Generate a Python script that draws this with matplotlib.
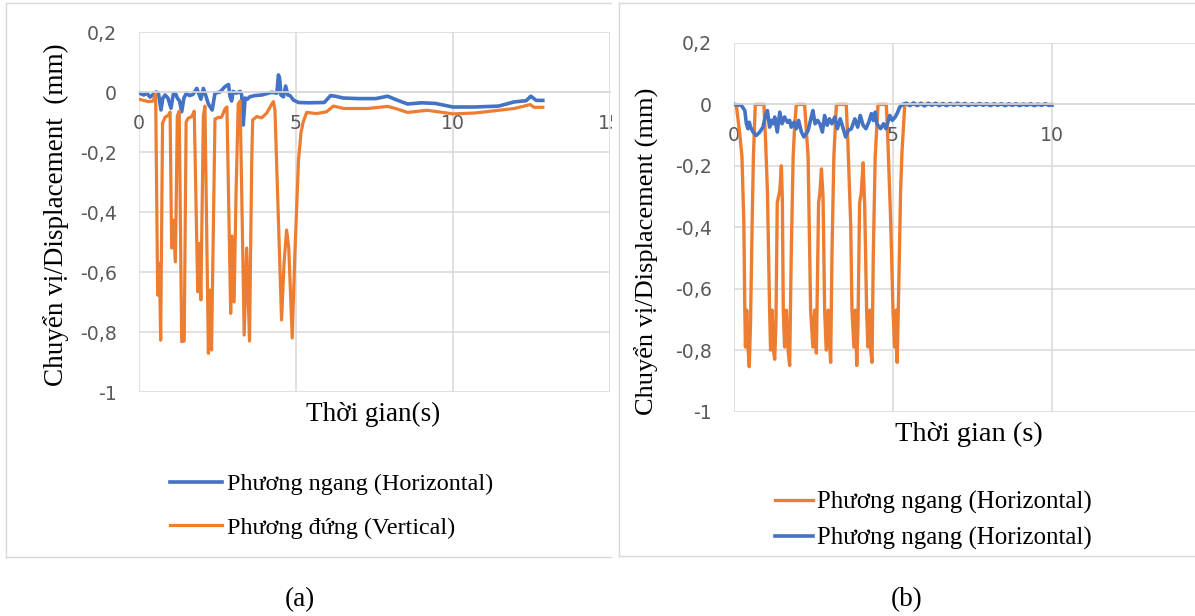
import matplotlib
matplotlib.use('Agg')
import matplotlib.pyplot as plt
from matplotlib.patches import Rectangle
from matplotlib.lines import Line2D

# ---------------- data ----------------
# Panel (a) - horizontal (blue)
ta_h = [0, 0.15, 0.25, 0.35, 0.45, 0.55, 0.62, 0.70, 0.76, 0.83,
        0.92, 1.02, 1.09, 1.16, 1.22, 1.29, 1.36, 1.43, 1.51, 1.61,
        1.72, 1.84, 1.90, 1.97, 2.05, 2.12, 2.21, 2.33, 2.42, 2.58,
        2.74, 2.85, 2.90, 2.95, 3.00, 3.10, 3.22, 3.27, 3.32, 3.38,
        3.45, 3.53, 3.69, 3.91, 4.23, 4.39, 4.44, 4.48, 4.52, 4.60,
        4.67, 4.74, 4.81, 4.92, 5.08, 5.40, 5.90, 6.10, 6.25, 6.50,
        7.00, 7.54, 7.92, 8.17, 8.55, 9.00, 9.43, 10.0, 10.7, 11.45,
        11.95, 12.33, 12.48, 12.65, 12.86]
va_h = [-0.003, -0.01, -0.004, -0.017, -0.008, 0.0, -0.004, -0.06, -0.02, -0.01,
        -0.02, -0.054, -0.008, -0.004, -0.02, -0.03, -0.066, -0.02, -0.004, -0.012,
        -0.008, 0.012, -0.004, -0.024, 0.012, -0.01, -0.04, -0.06, -0.004, 0.0,
        0.018, 0.025, -0.016, -0.03, 0.002, -0.004, 0.002, -0.01, -0.11, -0.02,
        -0.024, -0.016, -0.012, -0.01, -0.001, -0.004, 0.057, 0.045, -0.01, -0.016,
        0.02, -0.01, -0.012, -0.027, -0.035, -0.036, -0.035, -0.012, -0.014, -0.02,
        -0.022, -0.022, -0.014, -0.025, -0.04, -0.036, -0.038, -0.05, -0.05, -0.047,
        -0.033, -0.029, -0.014, -0.028, -0.028]

# Panel (a) - vertical (orange)
ta_v = [0.00, 0.30, 0.45, 0.53, 0.595, 0.65, 0.69, 0.75, 0.83, 0.93,
        0.99, 1.04, 1.09, 1.16, 1.22, 1.28, 1.36, 1.44, 1.50, 1.57,
        1.68, 1.76, 1.87, 1.92, 1.97, 2.05, 2.10, 2.21, 2.26, 2.31,
        2.42, 2.53, 2.63, 2.74, 2.80, 2.92, 2.96, 3.03, 3.09, 3.16,
        3.22, 3.35, 3.43, 3.52, 3.59, 3.62, 3.75, 3.91, 4.07, 4.23,
        4.28, 4.33, 4.54, 4.62, 4.70, 4.77, 4.88, 4.96, 5.08, 5.16,
        5.23, 5.34, 5.65, 5.97, 6.19, 6.53, 7.29, 7.92, 8.17, 8.55,
        9.18, 10.0, 10.7, 11.45, 11.95, 12.46, 12.58, 12.86]
va_v = [-0.024, -0.032, -0.03, -0.004, -0.677, -0.571, -0.827, -0.104, -0.084, -0.078,
        -0.067, -0.52, -0.427, -0.566, -0.08, -0.064, -0.832, -0.83, -0.10, -0.087,
        -0.082, -0.064, -0.666, -0.505, -0.693, -0.08, -0.047, -0.871, -0.66, -0.86,
        -0.09, -0.085, -0.084, -0.056, -0.05, -0.738, -0.48, -0.70, -0.34, -0.04,
        -0.03, -0.81, -0.52, -0.83, -0.23, -0.093, -0.082, -0.086, -0.07, -0.04,
        -0.032, -0.06, -0.76, -0.57, -0.46, -0.52, -0.82, -0.55, -0.227, -0.135,
        -0.10, -0.068, -0.072, -0.066, -0.047, -0.055, -0.055, -0.048, -0.055, -0.068,
        -0.061, -0.073, -0.07, -0.061, -0.055, -0.042, -0.051, -0.051]

# Panel (b) - orange
tb_o = [0, 0.07, 0.18, 0.25, 0.31, 0.34, 0.36, 0.40, 0.44, 0.48,
        0.52, 0.57, 0.61, 0.67, 0.94, 0.99, 1.05, 1.12, 1.15, 1.20,
        1.24, 1.28, 1.32, 1.36, 1.40, 1.44, 1.49, 1.52, 1.55, 1.59,
        1.65, 1.70, 1.75, 1.80, 1.86, 1.91, 1.96, 2.22, 2.33, 2.41,
        2.48, 2.54, 2.59, 2.62, 2.66, 2.70, 2.75, 2.80, 2.85, 2.90,
        2.96, 3.01, 3.04, 3.08, 3.14, 3.22, 3.53, 3.58, 3.67, 3.71,
        3.77, 3.82, 3.86, 3.90, 3.95, 4.00, 4.06, 4.11, 4.17, 4.21,
        4.27, 4.30, 4.34, 4.38, 4.44, 4.53, 4.79, 4.84, 4.93, 5.00,
        5.05, 5.10, 5.13, 5.18, 5.24, 5.28, 5.37, 10.0]
vb_o = [0, 0, -0.095, -0.17, -0.39, -0.67, -0.79, -0.67, -0.79, -0.854,
        -0.71, -0.39, -0.17, 0, 0, -0.11, -0.28, -0.67, -0.80, -0.67,
        -0.80, -0.83, -0.71, -0.32, -0.30, -0.28, -0.20, -0.31, -0.67, -0.79,
        -0.67, -0.80, -0.85, -0.49, -0.17, -0.065, 0, 0, -0.17, -0.67,
        -0.79, -0.67, -0.81, -0.60, -0.32, -0.29, -0.21, -0.30, -0.67, -0.80,
        -0.67, -0.79, -0.84, -0.49, -0.17, 0, 0, -0.12, -0.39, -0.67,
        -0.79, -0.67, -0.85, -0.71, -0.32, -0.29, -0.19, -0.33, -0.67, -0.79,
        -0.67, -0.80, -0.84, -0.49, -0.17, 0, 0, -0.12, -0.39, -0.67,
        -0.79, -0.67, -0.84, -0.60, -0.28, -0.16, 0, 0]

# Panel (b) - blue
tb_b = [0, 0.23, 0.34, 0.39, 0.44, 0.48, 0.52, 0.60, 0.70, 0.81,
        0.91, 0.99, 1.05, 1.12, 1.17, 1.23, 1.28, 1.36, 1.44, 1.51,
        1.59, 1.68, 1.75, 1.80, 1.89, 1.96, 2.03, 2.12, 2.20, 2.33,
        2.43, 2.48, 2.55, 2.63, 2.70, 2.78, 2.85, 2.93, 3.00, 3.08,
        3.17, 3.25, 3.34, 3.42, 3.51, 3.59, 3.69, 3.80, 3.89, 3.97,
        4.06, 4.15, 4.24, 4.32, 4.38, 4.44, 4.49, 4.61, 4.70, 4.78,
        4.90, 4.98, 5.07, 5.15, 5.21, 5.30,
        5.42, 5.53, 5.65, 5.76, 5.88, 5.99, 6.11, 6.22, 6.34, 6.45,
        6.57, 6.68, 6.80, 6.91, 7.03, 7.14, 7.26, 7.37, 7.49, 7.60,
        7.72, 7.83, 7.95, 8.06, 8.18, 8.29, 8.41, 8.52, 8.64, 8.75,
        8.87, 8.98, 9.10, 9.21, 9.33, 9.44, 9.56, 9.67, 9.79, 9.90, 10.0]
vb_b = [0, -0.003, -0.02, -0.063, -0.079, -0.058, -0.074, -0.09, -0.101, -0.09,
        -0.074, -0.036, -0.02, -0.074, -0.052, -0.063, -0.041, -0.09, -0.025, -0.063,
        -0.041, -0.058, -0.052, -0.074, -0.058, -0.079, -0.052, -0.09, -0.106, -0.085,
        -0.041, -0.02, -0.063, -0.052, -0.063, -0.09, -0.036, -0.068, -0.047, -0.063,
        -0.041, -0.079, -0.047, -0.074, -0.106, -0.085, -0.079, -0.047, -0.074, -0.036,
        -0.068, -0.079, -0.057, -0.03, -0.052, -0.025, -0.063, -0.079, -0.063, -0.079,
        -0.036, -0.052, -0.041, -0.025, -0.009, 0.0,
        0.004, -0.004, 0.005, -0.004, 0.004, -0.005, 0.004, -0.003, 0.004, -0.004,
        0.003, -0.004, 0.003, -0.003, 0.004, -0.003, 0.003, -0.004, 0.002, -0.003,
        0.003, -0.003, 0.002, -0.004, 0.002, -0.003, 0.002, -0.004, 0.002, -0.003,
        0.002, -0.004, 0.001, -0.003, 0.002, -0.004, 0.001, -0.003, 0.002, -0.003, -0.002]

yticks = [0.2, 0, -0.2, -0.4, -0.6, -0.8, -1]
ytick_labels = ['0,2', '0', '-0,2', '-0,4', '-0,6', '-0,8', '-1']
xticks = [0, 5, 10, 15]
xtick_labels_a = ['0', '5', '10', '15']
xtick_labels_b = ['0', '5', '10', '']   # "15" lies beyond the cropped edge

label_a_h = 'Phương ngang (Horizontal)'
label_a_v = 'Phương đứng (Vertical)'
label_b_o = 'Phương ngang (Horizontal)'
label_b_b = 'Phương ngang (Horizontal)'

# ---------------- style ----------------
W, H = 1195, 616
BLUE = '#4472C4'
ORANGE = '#ED7D31'
GRID = '#D9D9D9'
TICK = '#595959'
BORDER = '#D9D9D9'
SERIF = ['Liberation Serif', 'DejaVu Serif']
SANS = ['DejaVu Sans']

fig = plt.figure(figsize=(W / 100, H / 100), dpi=100)


def box(l, t, r, b):
    return [l / W, 1 - b / H, (r - l) / W, (b - t) / H]


def style(ax, xlabels):
    ax.set_xlim(0, 15)
    ax.set_ylim(-1, 0.2)
    ax.set_xticks(xticks)
    ax.set_xticklabels(xlabels)
    ax.set_yticks(yticks)
    ax.set_yticklabels(ytick_labels)
    for s in ['top', 'right', 'left']:
        ax.spines[s].set_visible(False)
    ax.spines['bottom'].set_position(('data', 0))
    ax.spines['bottom'].set_color(GRID)
    ax.spines['bottom'].set_linewidth(1.2)
    ax.grid(True, color=GRID, linewidth=1.1)
    ax.set_axisbelow(True)
    ax.tick_params(length=0, labelsize=13.6, labelcolor=TICK)
    ax.tick_params(axis='x', pad=15.5)
    ax.tick_params(axis='y', pad=16)
    for lbl in ax.get_xticklabels() + ax.get_yticklabels():
        lbl.set_fontfamily(SANS)
    ax.patch.set_alpha(0)


# Panel (a)
axa = fig.add_axes(box(139, 32, 610, 392))
style(axa, xtick_labels_a)
la_h, = axa.plot(ta_h, va_h, color=BLUE, lw=2.6, solid_joinstyle='round', label=label_a_h)
la_v, = axa.plot(ta_v, va_v, color=ORANGE, lw=2.3, solid_joinstyle='round', label=label_a_v)

# Panel (b)
axb = fig.add_axes(box(734, 43, 1211, 411.5))
style(axb, xtick_labels_b)
lb_o, = axb.plot(tb_o, vb_o, color=ORANGE, lw=2.4, solid_joinstyle='round', label=label_b_o)
lb_b, = axb.plot(tb_b, vb_b, color=BLUE, lw=2.6, solid_joinstyle='round', label=label_b_b)

# axis titles
fig.text(56 / W, 1 - 215 / H, 'Chuyển vị/Displacement  (mm)', rotation=90,
         ha='center', va='center', fontsize=19.5, family=SERIF)
fig.text(373 / W, 1 - 421 / H, 'Thời gian(s)', ha='center', va='baseline',
         fontsize=19.5, family=SERIF)
fig.text(647 / W, 1 - 251 / H, 'Chuyển vị/Displacement (mm)', rotation=90,
         ha='center', va='center', fontsize=19, family=SERIF)
fig.text(969 / W, 1 - 441 / H, 'Thời gian (s)', ha='center', va='baseline',
         fontsize=20.5, family=SERIF)

# legends
fig.legend(handles=[la_h, la_v], loc='center left',
           bbox_to_anchor=(170 / W, 1 - 506 / H), frameon=False,
           borderpad=0, borderaxespad=0, handlelength=2.15, handletextpad=0.2,
           labelspacing=0.9, prop={'family': SERIF, 'size': 17.4})
fig.legend(handles=[lb_o, lb_b], loc='center left',
           bbox_to_anchor=(775 / W, 1 - 520.5 / H), frameon=False,
           borderpad=0, borderaxespad=0, handlelength=1.53, handletextpad=0.16,
           labelspacing=0.52, prop={'family': SERIF, 'size': 17.9})

# captions
fig.text(299.5 / W, 1 - 600 / H, '(a)', ha='center', va='center', fontsize=19.5, family=SERIF)
fig.text(906.5 / W, 1 - 600 / H, '(b)', ha='center', va='center', fontsize=19.5, family=SERIF)

# white gap between panels (clips the "15" label of panel a)
fig.patches.append(Rectangle((612 / W, 0), 7 / W, 1, transform=fig.transFigure,
                             facecolor='white', edgecolor='none', zorder=5))


def fline(x0, y0, x1, y1):
    fig.lines.append(Line2D([x0 / W, x1 / W], [1 - y0 / H, 1 - y1 / H],
                            transform=fig.transFigure, color=BORDER, lw=1.0, zorder=6))


# panel (a) frame
fline(6, 3, 611, 3)
fline(6, 3, 6, 557)
fline(6, 557, 611, 557)
# panel (b) frame
fline(619, 3, 1195, 3)
fline(619, 3, 619, 556)
fline(619, 556, 1195, 556)

fig.savefig('out.png', dpi=100)
